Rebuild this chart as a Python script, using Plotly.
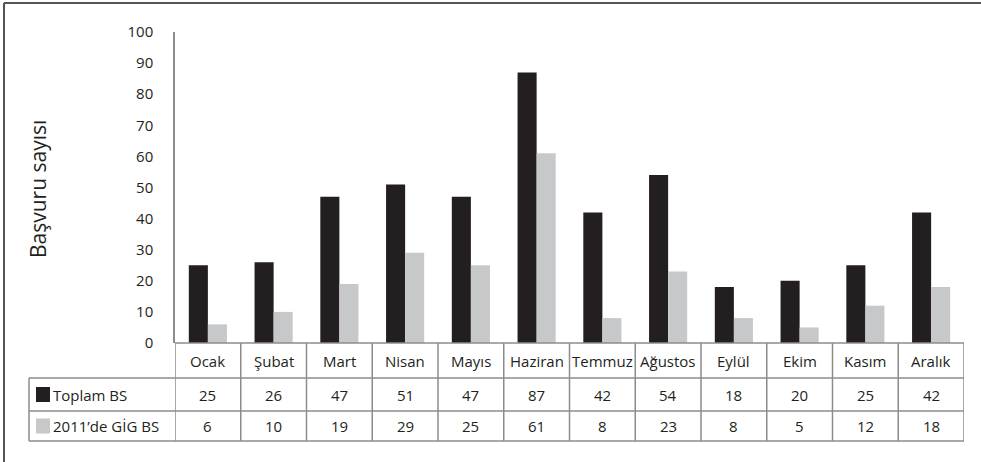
import plotly.graph_objects as go

# Monthly application counts
months = ["Ocak", "Şubat", "Mart", "Nisan", "Mayıs", "Haziran",
          "Temmuz", "Ağustos", "Eylül", "Ekim", "Kasım", "Aralık"]
toplam_bs = [25, 26, 47, 51, 47, 87, 42, 54, 18, 20, 25, 42]
gig_bs_2011 = [6, 10, 19, 29, 25, 61, 8, 23, 8, 5, 12, 18]
series_names = ["Toplam BS", "2011’de GİG BS"]
y_ticks = [0, 10, 20, 30, 40, 50, 60, 70, 80, 90, 100]
y_title = "Başvuru sayısı"

W, H = 981, 462
BLACK = "#231f20"
GREY = "#c7c8ca"
LINE = "#8c8c8c"
FONT = "Open Sans"
FS = 15

plot_left, plot_right, plot_top, plot_bottom = 175, 964, 32, 343


# pixel positions -> paper coordinates (relative to the plot area)
def px(x):
    return (x - plot_left) / (plot_right - plot_left)


def py(y):
    return (plot_bottom - y) / (plot_bottom - plot_top)


fig = go.Figure()
fig.add_bar(x=months, y=toplam_bs, name=series_names[0], marker_color=BLACK,
            marker_line_width=0)
fig.add_bar(x=months, y=gig_bs_2011, name=series_names[1], marker_color=GREY,
            marker_line_width=0)

shapes = []
annotations = []

# data-table rows below the plot
row_lines = [343, 378, 411, 441]
header_mid, row1_mid, row2_mid = 360.5, 394.5, 426
table_left = 29
n = len(months)


def hline(x0, x1, y, xref="paper"):
    shapes.append(dict(type="line", xref=xref, yref="paper",
                       x0=x0, x1=x1, y0=py(y), y1=py(y),
                       line=dict(color=LINE, width=1.5)))


def vline(x, y0, y1, xref="paper"):
    shapes.append(dict(type="line", xref=xref, yref="paper",
                       x0=x, x1=x, y0=py(y0), y1=py(y1),
                       line=dict(color=LINE, width=1.5)))


hline(-0.5, n - 0.5, row_lines[0], xref="x")
for y in row_lines[1:]:
    hline(px(table_left), px(plot_left), y)
    hline(-0.5, n - 0.5, y, xref="x")
vline(px(table_left), row_lines[1], row_lines[3])
for i in range(n + 1):
    vline(i - 0.5, row_lines[0], row_lines[3], xref="x")

cell_font = dict(family=FONT, size=FS, color=BLACK)
for i, m in enumerate(months):
    annotations.append(dict(x=i, y=py(header_mid), xref="x", yref="paper",
                            text=m, showarrow=False, font=cell_font,
                            xanchor="center", yanchor="middle"))
    annotations.append(dict(x=i, y=py(row1_mid), xref="x", yref="paper",
                            text=str(toplam_bs[i]), showarrow=False,
                            font=cell_font, xanchor="center", yanchor="middle"))
    annotations.append(dict(x=i, y=py(row2_mid), xref="x", yref="paper",
                            text=str(gig_bs_2011[i]), showarrow=False,
                            font=cell_font, xanchor="center", yanchor="middle"))

# legend keys inside the table's first column
for name, color, mid in [(series_names[0], BLACK, row1_mid),
                         (series_names[1], GREY, row2_mid)]:
    shapes.append(dict(type="rect", xref="paper", yref="paper",
                       x0=px(36), x1=px(50), y0=py(mid + 7.5), y1=py(mid - 7.5),
                       fillcolor=color, line_width=0))
    annotations.append(dict(x=px(51), y=py(mid), xref="paper", yref="paper",
                            text=name, showarrow=False, font=cell_font,
                            xanchor="left", yanchor="middle"))

# y-axis title
annotations.append(dict(x=px(38), y=py(189), xref="paper", yref="paper",
                        text=y_title, textangle=-90, showarrow=False,
                        font=dict(family=FONT, size=21, color=BLACK),
                        xanchor="center", yanchor="middle"))

# outer frame (top and left edges)
shapes.append(dict(type="line", xref="paper", yref="paper",
                   x0=px(4), x1=px(W), y0=py(3), y1=py(3),
                   line=dict(color="#555555", width=2)))
shapes.append(dict(type="line", xref="paper", yref="paper",
                   x0=px(4), x1=px(4), y0=py(3), y1=py(H),
                   line=dict(color="#555555", width=2)))

fig.update_layout(
    width=W, height=H,
    margin=dict(l=plot_left, r=W - plot_right, t=plot_top, b=H - plot_bottom,
                pad=0),
    paper_bgcolor="white", plot_bgcolor="white",
    barmode="group", bargap=0.42, bargroupgap=0,
    showlegend=False,
    font=dict(family=FONT, size=FS, color=BLACK),
    shapes=shapes, annotations=annotations,
)
fig.update_xaxes(showticklabels=False, showline=False, showgrid=False,
                 zeroline=False, ticks="", range=[-0.5, n - 0.5])
fig.update_yaxes(range=[0, 100], tickvals=y_ticks, showgrid=False,
                 zeroline=False, showline=True, linecolor=LINE, linewidth=1.5,
                 ticks="", ticklabelstandoff=17,
                 tickfont=dict(family=FONT, size=FS, color=BLACK))

fig.write_html("out.html")
